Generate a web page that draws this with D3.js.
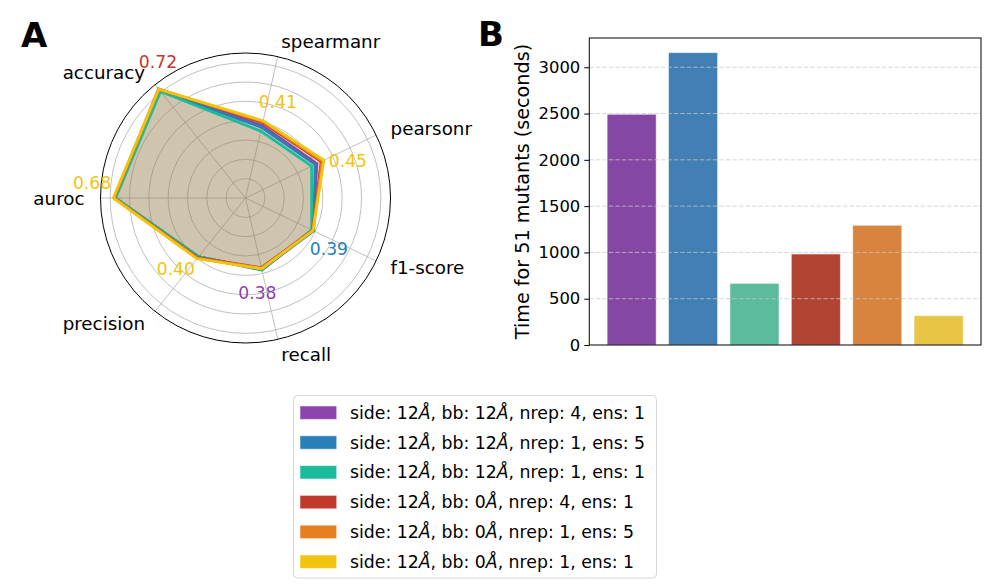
<!DOCTYPE html>
<html>
<head>
<meta charset="utf-8">
<script src="https://cdn.jsdelivr.net/npm/d3@7"></script>
<style>
  body { margin: 0; background: #fff; }
  text { font-family: "DejaVu Sans", sans-serif; }
</style>
</head>
<body>
<svg id="fig" width="996" height="588"></svg>
<script>
// 指標與數據
const metrics = ['accuracy', 'auroc', 'precision', 'recall', 'f1-score', 'pearsonr', 'spearmanr'];
const seriesNames = [
  'side: 12Å, bb: 12Å, nrep: 4, ens: 1',
  'side: 12Å, bb: 12Å, nrep: 1, ens: 5',
  'side: 12Å, bb: 12Å, nrep: 1, ens: 1',
  'side: 12Å, bb: 0Å, nrep: 4, ens: 1',
  'side: 12Å, bb: 0Å, nrep: 1, ens: 5',
  'side: 12Å, bb: 0Å, nrep: 1, ens: 1'
];
const lineColors = ['#8e44ad', '#2980b9', '#1abc9c', '#c0392b', '#e67e22', '#f1c40f'];
const barColors = ['#8646a4', '#417fb4', '#5bbb9d', '#b24434', '#d8833e', '#e8c545'];

// 每組設定在各指標上的分數 (順序同 metrics)
const scores = [
  [0.712, 0.676, 0.390, 0.382, 0.385, 0.410, 0.385],
  [0.712, 0.676, 0.390, 0.378, 0.392, 0.400, 0.375],
  [0.705, 0.672, 0.388, 0.381, 0.380, 0.380, 0.355],
  [0.721, 0.680, 0.395, 0.370, 0.385, 0.435, 0.400],
  [0.718, 0.680, 0.398, 0.372, 0.386, 0.440, 0.405],
  [0.720, 0.684, 0.402, 0.375, 0.388, 0.450, 0.410]
];
const radialTicks = [0.1, 0.2, 0.3, 0.4, 0.5, 0.6, 0.7];

// 51 個突變的運算時間
const times = [2492, 3158, 666, 983, 1293, 317];
const timeTicks = [0, 500, 1000, 1500, 2000, 2500, 3000];

const svg = d3.select('#fig');

// ---------- A: 雷達圖 ----------
const cx = 245.5, cy = 198, R = 145;
const r = d3.scaleLinear().domain([0, 0.75]).range([0, R]);
const step = 2 * Math.PI / metrics.length;
const angleOf = i => (2.5 + i) * step;   // 數學角度 (逆時針)
const px = (a, rad) => cx + rad * Math.cos(a);
const py = (a, rad) => cy - rad * Math.sin(a);

const radar = svg.append('g');

radar.selectAll('.rgrid')
  .data(radialTicks)
  .enter().append('circle')
  .attr('cx', cx).attr('cy', cy)
  .attr('r', d => r(d))
  .attr('fill', 'none')
  .attr('stroke', '#b0b0b0')
  .attr('stroke-width', 0.8);

radar.selectAll('.spoke')
  .data(metrics)
  .enter().append('line')
  .attr('x1', cx).attr('y1', cy)
  .attr('x2', (d, i) => px(angleOf(i), R))
  .attr('y2', (d, i) => py(angleOf(i), R))
  .attr('stroke', '#b0b0b0')
  .attr('stroke-width', 0.8);

radar.append('circle')
  .attr('cx', cx).attr('cy', cy).attr('r', R)
  .attr('fill', 'none').attr('stroke', '#000').attr('stroke-width', 1);

const polyPath = vals => 'M' + vals.map((v, i) => [px(angleOf(i), r(v)), py(angleOf(i), r(v))].join(',')).join('L') + 'Z';

scores.forEach((vals, s) => {
  radar.append('path')
    .attr('d', polyPath(vals))
    .attr('fill', lineColors[s])
    .attr('fill-opacity', 0.1)
    .attr('stroke', 'none');
});
scores.forEach((vals, s) => {
  radar.append('path')
    .attr('d', polyPath(vals))
    .attr('fill', 'none')
    .attr('stroke', lineColors[s])
    .attr('stroke-width', 2.8)
    .attr('stroke-linejoin', 'miter');
});

// 指標名稱
radar.selectAll('.mlabel')
  .data(metrics)
  .enter().append('text')
  .attr('x', (d, i) => px(angleOf(i), 161))
  .attr('y', (d, i) => py(angleOf(i), 161))
  .attr('text-anchor', (d, i) => Math.cos(angleOf(i)) > 0 ? 'start' : 'end')
  .attr('dominant-baseline', 'central')
  .attr('font-size', 18.3)
  .attr('fill', '#000')
  .text(d => d);

// 各指標最佳值
metrics.forEach((m, i) => {
  let best = 0;
  scores.forEach((vals, s) => { if (vals[i] > scores[best][i]) best = s; });
  const v = scores[best][i];
  const a = angleOf(i) - 0.1;
  radar.append('text')
    .attr('x', px(a, r(v) + 22))
    .attr('y', py(a, r(v) + 22))
    .attr('text-anchor', 'middle')
    .attr('dominant-baseline', 'central')
    .attr('font-size', 17.2)
    .attr('fill', lineColors[best])
    .text(v.toFixed(2));
});

svg.append('text')
  .attr('x', 21).attr('y', 46.5)
  .attr('font-size', 34).attr('font-weight', 'bold')
  .text('A');

// ---------- B: 柱狀圖 ----------
const plotL = 589.3, plotR = 981, plotT = 38, plotB = 345;
const x = d3.scaleLinear().domain([-0.69, 5.69]).range([plotL, plotR]);
const y = d3.scaleLinear().domain([0, 3316]).range([plotB, plotT]);

const bars = svg.append('g');

bars.selectAll('.bar')
  .data(times)
  .enter().append('rect')
  .attr('x', (d, i) => x(i - 0.4))
  .attr('width', (d, i) => x(i + 0.4) - x(i - 0.4))
  .attr('y', d => y(d))
  .attr('height', d => y(0) - y(d))
  .attr('fill', (d, i) => barColors[i])
  .attr('stroke', 'rgba(255,255,255,0.55)')
  .attr('stroke-width', 1);

bars.selectAll('.grid')
  .data(timeTicks.slice(1))
  .enter().append('line')
  .attr('x1', plotL).attr('x2', plotR)
  .attr('y1', d => y(d)).attr('y2', d => y(d))
  .attr('stroke', '#c8c8c8')
  .attr('stroke-opacity', 0.75)
  .attr('stroke-width', 1)
  .attr('stroke-dasharray', '4.5,2');

const yAxis = d3.axisLeft(y).tickValues(timeTicks).tickFormat(d3.format('d')).tickSize(5).tickPadding(4);
const yg = bars.append('g')
  .attr('transform', `translate(${plotL},0)`)
  .call(yAxis);
yg.select('.domain').remove();
yg.selectAll('text').attr('font-size', 16.4).attr('fill', '#000')
  .attr('font-family', '"DejaVu Sans", sans-serif');
yg.selectAll('line').attr('stroke', '#000').attr('stroke-width', 1);

bars.append('rect')
  .attr('x', plotL).attr('y', plotT)
  .attr('width', plotR - plotL).attr('height', plotB - plotT)
  .attr('fill', 'none').attr('stroke', '#000').attr('stroke-width', 1);

bars.append('text')
  .attr('transform', `translate(522,${(plotT + plotB) / 2}) rotate(-90)`)
  .attr('text-anchor', 'middle')
  .attr('dominant-baseline', 'central')
  .attr('font-size', 19.2)
  .text('Time for 51 mutants (seconds)');

svg.append('text')
  .attr('x', 478).attr('y', 46)
  .attr('font-size', 34).attr('font-weight', 'bold')
  .text('B');

// ---------- 圖例 ----------
const legend = svg.append('g');
legend.append('rect')
  .attr('x', 293.5).attr('y', 395.5)
  .attr('width', 363).attr('height', 182.5)
  .attr('rx', 4)
  .attr('fill', '#fff')
  .attr('stroke', '#d6d6d6')
  .attr('stroke-width', 1);

const rowY = d3.scaleLinear().domain([0, 5]).range([412.7, 561.7]);
seriesNames.forEach((name, i) => {
  legend.append('rect')
    .attr('x', 300).attr('y', rowY(i) - 6.7)
    .attr('width', 36.7).attr('height', 13.4)
    .attr('fill', lineColors[i])
    .attr('stroke', 'rgba(255,255,255,0.5)')
    .attr('stroke-width', 1);
  const t = legend.append('text')
    .attr('x', 350).attr('y', rowY(i))
    .attr('dominant-baseline', 'central')
    .attr('font-size', 17.3);
  name.split('Å').forEach((part, k, arr) => {
    t.append('tspan').text(part);
    if (k < arr.length - 1) t.append('tspan').attr('font-style', 'italic').text('Å');
  });
});
</script>
</body>
</html>
